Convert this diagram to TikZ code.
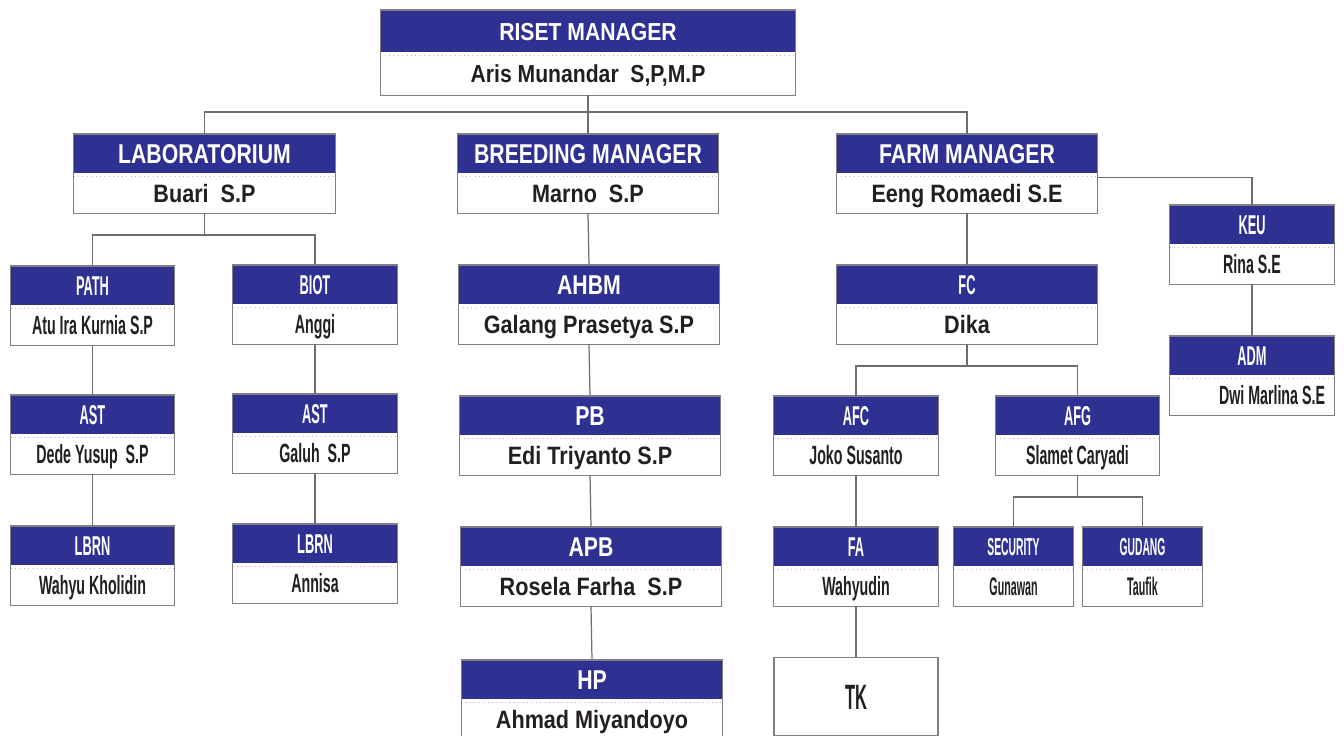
\documentclass[tikz,border=0pt]{standalone}
\usepackage{fontspec}
\setmainfont{Liberation Sans}
\newfontfamily\widefont[FakeStretch=0.86]{Liberation Sans}
\newfontfamily\midfont[FakeStretch=0.78]{Liberation Sans}
\newfontfamily\narrowfont[FakeStretch=0.54]{Liberation Sans}
\newfontfamily\thinfont[FakeStretch=0.47]{Liberation Sans}
\newfontfamily\thinnerfont[FakeStretch=0.42]{Liberation Sans}
\usepackage{tikz}
\usetikzlibrary{positioning}
\definecolor{HeadBlue}{HTML}{2E3192}
\definecolor{NameInk}{HTML}{231F20}
\definecolor{BoxGray}{HTML}{808080}
\definecolor{LineGray}{HTML}{6D6E71}

\tikzset{
  hdrbox/.style={fill=HeadBlue, text=white, inner sep=0pt, minimum height=0.78cm, text depth=0pt},
  namebox/.style={fill=white, text=NameInk, inner sep=0pt, minimum height=0.78cm, text depth=0pt},
  sepline/.style={draw=gray!55, dotted, line width=0.5pt},
  boxline/.style={draw=BoxGray, line width=0.7pt},
  conn/.style={draw=LineGray, line width=0.7pt},
  topTitle/.style={font=\fontsize{14}{14}\selectfont\widefont\bfseries, text height=10pt},
  bigTitle/.style={font=\fontsize{15.5}{16}\selectfont\midfont\bfseries, text height=11.1pt},
  bigName/.style={font=\fontsize{14.3}{15}\selectfont\widefont\bfseries, text height=10.2pt},
  smallTitle/.style={font=\fontsize{15.5}{16}\selectfont\thinfont\bfseries, text height=11.1pt},
  smallName/.style={font=\fontsize{15}{16}\selectfont\narrowfont\bfseries, text height=10.7pt},
  tinyTitle/.style={font=\fontsize{14}{14}\selectfont\thinnerfont\bfseries, text height=10pt},
  tinyName/.style={font=\fontsize{14.5}{15}\selectfont\thinnerfont\bfseries, text height=10.4pt},
}

% #1 id, #2 x, #3 top, #4 size, #5 title style, #6 title, #7 name style, #8 person
\newcommand{\orgunit}[8]{%
  \node[hdrbox, #4, #5, anchor=north] (#1-h) at (#2,#3) {#6};
  \node[namebox, #4, #7, below=0pt of #1-h] (#1) {#8};
  \draw[sepline] ([yshift=-1.5pt]#1.north west) -- ([yshift=-1.5pt]#1.north east);
  \draw[boxline] (#1-h.north west) rectangle (#1.south east);
}

\begin{document}
\begin{tikzpicture}[x=0.02cm,y=-0.02cm]
  \fill[white] (0,0) rectangle (1344,736);
  \useasboundingbox (0,0) rectangle (1344,736);

  % top
  \orgunit{riset}{588}{10}{minimum width=8.3cm, minimum height=0.84cm}{topTitle}{RISET MANAGER}{topTitle}{Aris Munandar\ \ S,P,M.P}

  % managers
  \orgunit{lab}{204.5}{134}{minimum width=5.22cm}{bigTitle}{LABORATORIUM}{bigName}{Buari\ \ S.P}
  \orgunit{breed}{588}{134}{minimum width=5.22cm}{bigTitle}{BREEDING MANAGER}{bigName}{Marno\ \ S.P}
  \orgunit{farm}{967}{134}{minimum width=5.22cm}{bigTitle}{FARM MANAGER}{bigName}{Eeng Romaedi S.E}

  % laboratorium
  \orgunit{path}{92.5}{266}{minimum width=3.26cm}{smallTitle}{PATH}{smallName}{Atu Ira Kurnia S.P}
  \orgunit{biot}{315}{265}{minimum width=3.28cm}{smallTitle}{BIOT}{smallName}{Anggi}
  \orgunit{ast1}{92.5}{395}{minimum width=3.26cm}{smallTitle}{AST}{smallName}{Dede Yusup\ \ S.P}
  \orgunit{ast2}{315}{394}{minimum width=3.28cm}{smallTitle}{AST}{smallName}{Galuh\ \ S.P}
  \orgunit{lbrn1}{92.5}{526}{minimum width=3.26cm}{smallTitle}{LBRN}{smallName}{Wahyu Kholidin}
  \orgunit{lbrn2}{315}{524}{minimum width=3.28cm}{smallTitle}{LBRN}{smallName}{Annisa}

  % breeding
  \orgunit{ahbm}{589}{265}{minimum width=5.22cm}{bigTitle}{AHBM}{bigName}{Galang Prasetya S.P}
  \orgunit{pb}{590}{396}{minimum width=5.22cm}{bigTitle}{PB}{bigName}{Edi Triyanto S.P}
  \orgunit{apb}{591}{527}{minimum width=5.22cm}{bigTitle}{APB}{bigName}{Rosela Farha\ \ S.P}
  \orgunit{hp}{592}{660}{minimum width=5.22cm}{bigTitle}{HP}{bigName}{Ahmad Miyandoyo}

  % farm
  \orgunit{keu}{1252}{205}{minimum width=3.28cm}{smallTitle}{KEU}{smallName}{Rina S.E}
  \orgunit{adm}{1252}{336}{minimum width=3.28cm}{smallTitle}{ADM}{smallName}{\hspace*{0.8cm}Dwi Marlina S.E}
  \orgunit{fc}{967}{265}{minimum width=5.22cm}{smallTitle}{FC}{bigName}{Dika}
  \orgunit{afc}{856}{396}{minimum width=3.28cm}{smallTitle}{AFC}{smallName}{Joko Susanto}
  \orgunit{afg}{1077.5}{396}{minimum width=3.26cm}{smallTitle}{AFG}{smallName}{Slamet Caryadi}
  \orgunit{fa}{856}{527}{minimum width=3.28cm}{smallTitle}{FA}{smallName}{Wahyudin}
  \orgunit{security}{1013.5}{527}{minimum width=2.38cm}{tinyTitle}{SECURITY}{tinyName}{Gunawan}
  \orgunit{gudang}{1142.5}{527}{minimum width=2.38cm}{tinyTitle}{GUDANG}{tinyName}{Taufik}
  \node[namebox, draw=BoxGray, line width=0.7pt, minimum width=3.28cm, minimum height=1.56cm,
        font=\fontsize{20}{20}\selectfont\thinfont\bfseries, text height=14.3pt, anchor=north] (tk) at (856,657) {TK};

  % connectors
  \draw[conn] (riset.south) -- (breed-h.north);
  \draw[conn] (lab-h.north) -- ++(0,-22) -| (farm-h.north);
  \draw[conn] (lab.south) -- ++(0,23);
  \draw[conn] (path-h.north) -- ++(0,-31) -| (biot-h.north);
  \draw[conn] (path.south) -- (ast1-h.north);
  \draw[conn] (ast1.south) -- (lbrn1-h.north);
  \draw[conn] (biot.south) -- (ast2-h.north);
  \draw[conn] (ast2.south) -- (lbrn2-h.north);
  \draw[conn] (breed.south) -- (ahbm-h.north);
  \draw[conn] (ahbm.south) -- (pb-h.north);
  \draw[conn] (pb.south) -- (apb-h.north);
  \draw[conn] (apb.south) -- (hp-h.north);
  \draw[conn] ([yshift=-2pt]farm.north east) -| (keu-h.north);
  \draw[conn] (keu.south) -- (adm-h.north);
  \draw[conn] (farm.south) -- (fc-h.north);
  \draw[conn] (fc.south) -- ++(0,23);
  \draw[conn] (afc-h.north) -- ++(0,-30) -| (afg-h.north);
  \draw[conn] (afc.south) -- (fa-h.north);
  \draw[conn] (fa.south) -- (tk.north);
  \draw[conn] (afg.south) -- ++(0,23);
  \draw[conn] (security-h.north) -- ++(0,-30) -| (gudang-h.north);
\end{tikzpicture}
\end{document}
